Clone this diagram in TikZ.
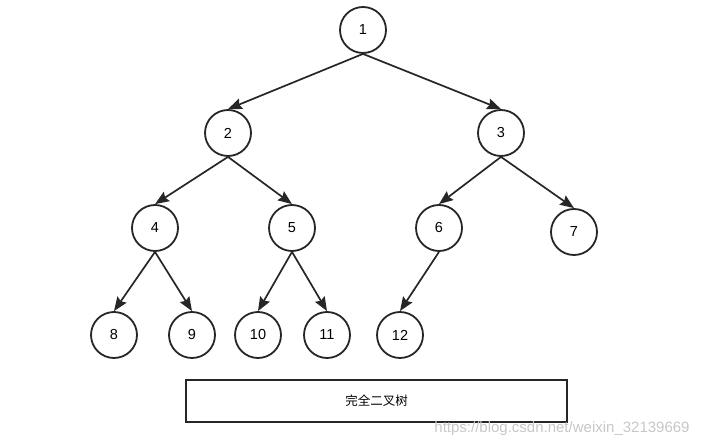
\documentclass[tikz,border=0pt]{standalone}
\usepackage{fontspec}
\setmainfont{Liberation Sans}
\newfontfamily\cjk{Noto Sans CJK SC}
\usetikzlibrary{arrows.meta}
\tikzset{
  treenode/.style={draw=black!85, line width=1.8pt, circle, minimum size=46pt, inner sep=0pt, font=\fontsize{14.5}{16}\selectfont},
  treeedge/.style={draw=black!85, line width=1.7pt, -{Stealth[length=14pt,width=11pt,inset=2pt]}},
}
\begin{document}
\begin{tikzpicture}[x=1pt,y=-1pt]
        % Keep the page as large as the original picture
        \useasboundingbox (0,0) rectangle (719,446);

        % Root and second level
        \node[treenode] (n1) at (363,30) {1};
        \node[treenode] (n2) at (228,133) {2};
        \node[treenode] (n3) at (501,133) {3};

        % Third level
        \node[treenode] (n4) at (155,228) {4};
        \node[treenode] (n5) at (292,228) {5};
        \node[treenode] (n6) at (439,228) {6};
        \node[treenode] (n7) at (574,232) {7};

        % Leaves
        \node[treenode] (n8) at (114,335) {8};
        \node[treenode] (n9) at (192,335) {9};
        \node[treenode] (n10) at (258,335) {10};
        \node[treenode] (n11) at (327,335) {11};
        \node[treenode] (n12) at (400,335) {12};

        % Edges from each parent down to its children
        \draw[treeedge] (n1.south) -- (n2.north);
        \draw[treeedge] (n1.south) -- (n3.north);
        \draw[treeedge] (n2.south) -- (n4.north);
        \draw[treeedge] (n2.south) -- (n5.north);
        \draw[treeedge] (n3.south) -- (n6.north);
        \draw[treeedge] (n3.south) -- (n7.north);
        \draw[treeedge] (n4.south) -- (n8.north);
        \draw[treeedge] (n4.south) -- (n9.north);
        \draw[treeedge] (n5.south) -- (n10.north);
        \draw[treeedge] (n5.south) -- (n11.north);
        \draw[treeedge] (n6.south) -- (n12.north);

        % Caption box
        \node[draw=black!85, line width=1.8pt, minimum width=381pt, minimum height=42pt, inner sep=0pt, font=\cjk\fontsize{12.5}{14}\selectfont] (caption) at (376.5,401) {完全二叉树};

        % Watermark
        \node[text=black!22, font=\fontsize{15}{17}\selectfont, inner sep=0pt] (mark) at (562,429) {https://blog.csdn.net/weixin\_32139669};
    \end{tikzpicture}
\end{document}
